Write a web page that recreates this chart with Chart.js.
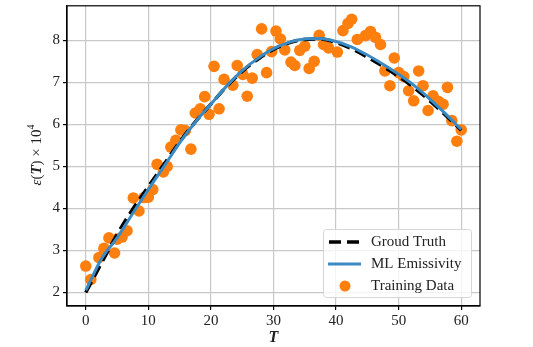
<!DOCTYPE html>
<html>
<head>
<meta charset="utf-8">
<script src="https://cdn.jsdelivr.net/npm/chart.js@4.4.0/dist/chart.umd.min.js"></script>
<style>
  html, body { margin: 0; padding: 0; background: #fff; }
  canvas { display: block; }
</style>
</head>
<body>
<canvas id="myChart" width="533" height="347"></canvas>
<script>
// values
var trainT = [0, 0.8, 2.1, 2.9, 3.7, 4.6, 5.0, 5.8, 6.6, 7.6, 8.5, 9.3, 10.0, 10.7, 11.4, 12.4, 13.0,
    13.6, 14.4, 15.2, 15.9, 16.8, 17.5, 18.3, 19.0, 19.7, 20.5, 21.3, 22.1, 23.5, 24.2, 25.1, 25.8,
    26.6, 27.4, 28.1, 28.9, 29.7, 30.4, 31.1, 31.8, 32.8, 33.4, 34.2, 35.0, 35.7, 36.5, 37.3, 38.0,
    38.8, 40.2, 41.1, 41.9, 42.5, 43.4, 44.7, 45.5, 46.3, 47.1, 47.8, 48.6, 49.3, 50.0, 50.8, 51.6,
    52.4, 53.2, 53.9, 54.7, 55.5, 56.4, 57.1, 57.8, 58.5, 59.3, 60.0];
var trainEps = [2.63, 2.31, 2.83, 3.05, 3.30, 2.94, 3.27, 3.32, 3.47, 4.25, 3.94, 4.26, 4.27, 4.45, 5.05, 4.87, 5.00,
    5.46, 5.62, 5.87, 5.85, 5.41, 6.27, 6.37, 6.66, 6.24, 7.38, 6.37, 7.07, 6.93, 7.40, 7.19, 6.67,
    7.10, 7.66, 8.27, 7.23, 7.73, 8.22, 8.03, 7.77, 7.48, 7.40, 7.76, 7.86, 7.33, 7.50, 8.12, 7.90,
    7.82, 7.72, 8.23, 8.40, 8.50, 8.02, 8.11, 8.21, 8.07, 7.90, 7.27, 6.92, 7.58, 7.23, 7.14, 6.80,
    6.56, 7.27, 6.92, 6.33, 6.68, 6.54, 6.48, 6.88, 6.09, 5.60, 5.87];

var curveT = [0, 2.5, 5, 7.5, 10, 12.5, 15, 17.5, 20, 22.5, 25, 27.5, 30, 32.5, 35, 37.5, 40, 42.5, 45, 47.5, 50, 52.5, 55, 57.5, 60];
var truthEps = [2.00, 2.70, 3.38, 3.98, 4.52, 5.05, 5.58, 6.06, 6.48, 6.90, 7.26, 7.55, 7.78, 7.94, 8.02, 8.03, 7.95, 7.80, 7.60, 7.38, 7.14, 6.87, 6.56, 6.22, 5.86];
var mlEps = [2.05, 2.80, 3.30, 3.88, 4.45, 5.00, 5.56, 6.05, 6.48, 6.91, 7.28, 7.57, 7.80, 7.95, 8.03, 8.04, 7.97, 7.84, 7.65, 7.43, 7.19, 6.92, 6.60, 6.25, 5.88];

var xTicks = [0, 10, 20, 30, 40, 50, 60];
var yTicks = [2, 3, 4, 5, 6, 7, 8];

var serif = "'Liberation Serif', 'DejaVu Serif', serif";

function pts(xs, ys) {
    return xs.map(function (x, i) { return { x: x, y: ys[i] }; });
}

var frameAndLegend = {
    id: 'frameAndLegend',
    afterDraw: function (chart) {
        var ctx = chart.ctx;
        var a = chart.chartArea;
        ctx.save();
        // full frame
        ctx.strokeStyle = '#000';
        ctx.lineWidth = 1.2;
        ctx.strokeRect(a.left, a.top, a.right - a.left, a.bottom - a.top);

        // legend box
        var bx = 323.5, by = 229.5, bw = 148, bh = 68, r = 3;
        ctx.beginPath();
        ctx.moveTo(bx + r, by);
        ctx.arcTo(bx + bw, by, bx + bw, by + bh, r);
        ctx.arcTo(bx + bw, by + bh, bx, by + bh, r);
        ctx.arcTo(bx, by + bh, bx, by, r);
        ctx.arcTo(bx, by, bx + bw, by, r);
        ctx.closePath();
        ctx.fillStyle = 'rgba(255,255,255,0.8)';
        ctx.fill();
        ctx.strokeStyle = '#d6d6d6';
        ctx.lineWidth = 1;
        ctx.stroke();

        var rows = [242, 264, 286];
        // ground truth handle
        ctx.strokeStyle = '#000';
        ctx.lineWidth = 3.5;
        ctx.setLineDash([12, 6]);
        ctx.beginPath();
        ctx.moveTo(329, rows[0]);
        ctx.lineTo(361, rows[0]);
        ctx.stroke();
        ctx.setLineDash([]);
        // ml handle
        ctx.strokeStyle = '#3a8bc4';
        ctx.lineWidth = 3;
        ctx.beginPath();
        ctx.moveTo(328, rows[1]);
        ctx.lineTo(361, rows[1]);
        ctx.stroke();
        // training marker
        ctx.fillStyle = '#ff7f0e';
        ctx.beginPath();
        ctx.arc(345, rows[2], 5.5, 0, Math.PI * 2);
        ctx.fill();

        ctx.fillStyle = '#222';
        ctx.font = '15px ' + serif;
        ctx.textBaseline = 'middle';
        ctx.textAlign = 'left';
        ctx.fillText('Groud Truth', 371, rows[0]);
        ctx.fillText('ML Emissivity', 371, rows[1]);
        ctx.fillText('Training Data', 371, rows[2]);

        // y axis title with mixed styles
        var parts = [
            ['\u03b5', 'italic 15px ' + serif, 0],
            ['(', '15px ' + serif, 0],
            ['T', 'bold italic 15px ' + serif, 0],
            [')', '15px ' + serif, 0],
            [' \u00d7 10', '15px ' + serif, 0],
            ['4', '10px ' + serif, -6]
        ];
        var total = 0;
        parts.forEach(function (p) { ctx.font = p[1]; total += ctx.measureText(p[0]).width; });
        ctx.translate(37, 155);
        ctx.rotate(-Math.PI / 2);
        var cx = -total / 2;
        ctx.fillStyle = '#222';
        parts.forEach(function (p) {
            ctx.font = p[1];
            ctx.fillText(p[0], cx, p[2]);
            cx += ctx.measureText(p[0]).width;
        });
        ctx.restore();
    }
};

var ctx = document.getElementById('myChart').getContext('2d');

var chart = new Chart(ctx, {
    type: 'scatter',
    data: {
        datasets: [{
            label: 'ML Emissivity',
            data: pts(curveT, mlEps),
            showLine: true,
            borderColor: '#3a8bc4',
            borderWidth: 3,
            pointRadius: 0,
            cubicInterpolationMode: 'monotone',
            order: 1
        }, {
            label: 'Groud Truth',
            data: pts(curveT, truthEps),
            showLine: true,
            borderColor: '#000',
            borderWidth: 3.5,
            borderDash: [12, 6],
            pointRadius: 0,
            cubicInterpolationMode: 'monotone',
            order: 2
        }, {
            label: 'Training Data',
            data: pts(trainT, trainEps),
            backgroundColor: '#ff7f0e',
            borderWidth: 0,
            pointRadius: 5.8,
            order: 3
        }]
    },
    options: {
        responsive: false,
        animation: false,
        layout: { padding: { top: 1, right: 53, left: 0, bottom: 0 } },
        plugins: {
            legend: { display: false },
            tooltip: { enabled: false }
        },
        scales: {
            x: {
                type: 'linear',
                min: -3,
                max: 63,
                afterBuildTicks: function (s) { s.ticks = xTicks.map(function (v) { return { value: v }; }); },
                afterFit: function (s) { s.height = 41; s.paddingLeft = 0; s.paddingRight = 0; },
                ticks: { color: '#222', font: { family: serif, size: 15 }, padding: 2, maxRotation: 0 },
                grid: { color: '#c8c8c8', lineWidth: 1.2, tickColor: '#000', tickLength: 4 },
                border: { color: '#000', width: 1.2 },
                title: { display: true, text: 'T', color: '#222', font: { family: serif, size: 16, style: 'italic', weight: 'bold' }, padding: { top: 3, bottom: 0 } }
            },
            y: {
                min: 1.68,
                max: 8.82,
                afterBuildTicks: function (s) { s.ticks = yTicks.map(function (v) { return { value: v }; }); },
                afterFit: function (s) { s.width = 67; s.paddingTop = 0; s.paddingBottom = 0; },
                ticks: { color: '#222', font: { family: serif, size: 15 }, padding: 3 },
                grid: { color: '#c8c8c8', lineWidth: 1.2, tickColor: '#000', tickLength: 4 },
                border: { color: '#000', width: 1.2 }
            }
        }
    },
    plugins: [frameAndLegend]
});
</script>
</body>
</html>
